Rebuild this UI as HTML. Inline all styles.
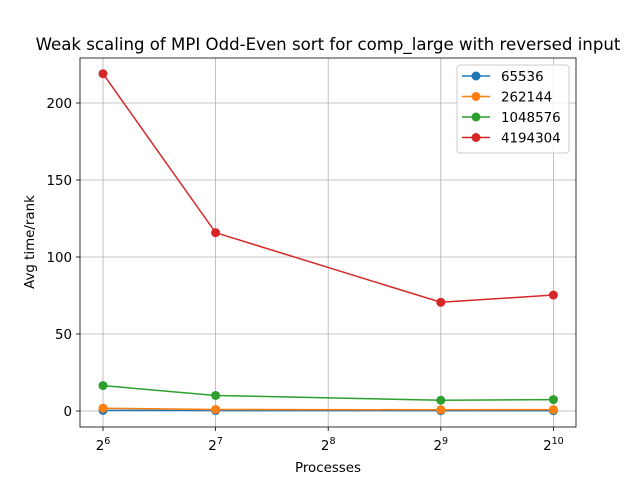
<!DOCTYPE html>
<html><head><meta charset="utf-8"><style>
body{margin:0;background:#fff;}
svg{font-family:"DejaVu Sans","Liberation Sans",sans-serif;}
</style></head><body>
<svg id="chart" width="640" height="480">
<rect width="640" height="480" fill="#fff"/>
<text x="328" y="50" text-anchor="middle" font-size="16.6">Weak scaling of MPI Odd-Even sort for comp_large with reversed input</text>
<g id="grid"></g>
<g id="axes"></g>
<g id="series"></g>
<rect x="80" y="58" width="496" height="369" fill="none" stroke="#000" stroke-width="0.8"/>
<text x="328" y="472" text-anchor="middle" font-size="13.4">Processes</text>
<text x="34" y="242" text-anchor="middle" font-size="13.4" transform="rotate(-90 34 242)">Avg time/rank</text>
<g id="legend"></g>
</svg>
<script>
const xExps=[6,7,9,10];
const seriesNames=["65536","262144","1048576","4194304"];
const s65536=[0.4,0.3,0.2,0.2];
const s262144=[1.8,1.0,0.8,0.9];
const s1048576=[16.5,10.1,7.0,7.4];
const s4194304=[219,115.8,70.6,75.3];
const xTicks=[6,7,8,9,10];
const yTicks=[0,50,100,150,200];
const colors=["#1f77b4","#ff7f0e","#2ca02c","#d62728"];
const NS="http://www.w3.org/2000/svg";
function X(e){return 103+(e-6)*112.6;}
function Y(v){return 411-v*1.54;}
function mk(t,a,p){const el=document.createElementNS(NS,t);for(const k in a)el.setAttribute(k,a[k]);p.appendChild(el);return el;}
const grid=document.getElementById('grid'),axes=document.getElementById('axes'),ser=document.getElementById('series'),leg=document.getElementById('legend');
xTicks.forEach(e=>{
 const g=mk('line',{x1:X(e),x2:X(e),y1:58,y2:427,stroke:'#b0b0b0','stroke-width':0.8},grid);
 
 
 mk('line',{x1:X(e),x2:X(e),y1:427,y2:431,stroke:'#000','stroke-width':0.8},axes);
 const t=mk('text',{x:X(e),y:450,'text-anchor':'middle','font-size':13.4},axes);
 
 
 t.innerHTML='2<tspan dy="-6" font-size="9.5">'+e+'</tspan>';
});
yTicks.forEach(v=>{
 const g=mk('line',{x1:80,x2:576,y1:Y(v),y2:Y(v),stroke:'#b0b0b0','stroke-width':0.8},grid);
 
 
 mk('line',{x1:76,x2:80,y1:Y(v),y2:Y(v),stroke:'#000','stroke-width':0.8},axes);
 const t=mk('text',{x:72,y:Y(v)+5,'text-anchor':'end','font-size':13.4},axes);
 
 
 t.textContent=v;
});
[s65536,s262144,s1048576,s4194304].forEach((d,i)=>{
 const pl=mk('polyline',{points:d.map((v,j)=>X(xExps[j])+','+Y(v)).join(' '),fill:'none',stroke:colors[i],'stroke-width':1.5},ser);
 
 
 d.forEach((v,j)=>{
  const c=mk('circle',{cx:X(xExps[j]),cy:Y(v),r:4.5,fill:colors[i]},ser);
  
  
 });
});
const lb=mk('rect',{x:457,y:65,width:112,height:88,rx:3,fill:'#fff','fill-opacity':0.8,stroke:'#ccc'},leg);


seriesNames.forEach((n,i)=>{
 const y=76+i*20.5;
 const g=mk('g',{},leg);
 
 
 mk('line',{x1:462,x2:490,y1:y,y2:y,stroke:colors[i],'stroke-width':1.5},g);
 mk('circle',{cx:476,cy:y,r:4.5,fill:colors[i]},g);
 const t=mk('text',{x:501,y:y+5,'font-size':13.4},g);
 t.textContent=n;
});
</script>
</body></html>
